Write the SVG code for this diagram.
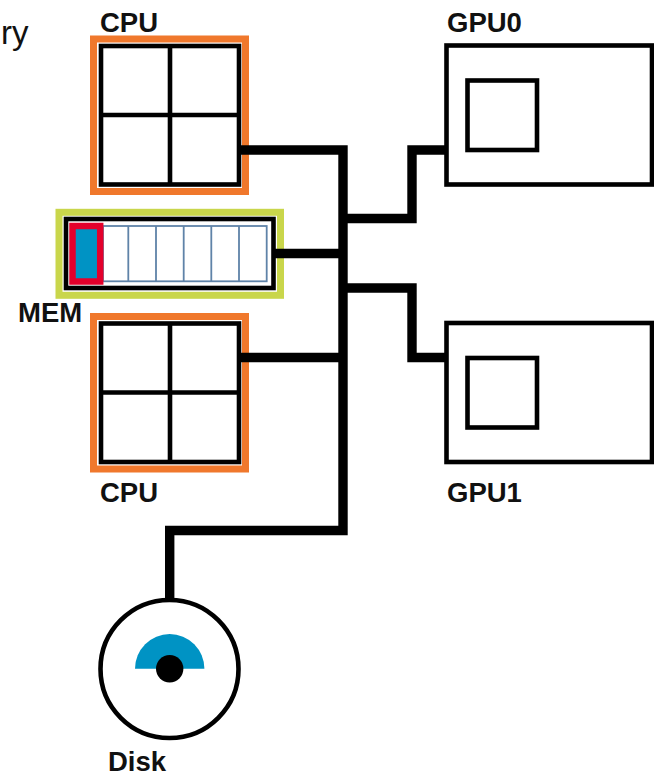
<svg xmlns="http://www.w3.org/2000/svg" width="654" height="774" viewBox="0 0 654 774">
<style>
text{font-family:"Liberation Sans",Arial,sans-serif;font-size:27.5px;font-weight:700;fill:#111}
.k{fill:#fff;stroke:#000;stroke-width:4.6}
.l{fill:none;stroke:#000;stroke-width:4.6}
.o{fill:#fff;stroke:#f0782c;stroke-width:7}
.c{fill:none;stroke:#5f83a8;stroke-width:1.8}
.w{fill:none;stroke:#000;stroke-width:9.4;stroke-linejoin:miter}
</style>
<defs>
<g id="cpu">
<rect class="o" x="93.5" y="39" width="152" height="152.5"/>
<rect class="k" x="101" y="46" width="138" height="138.5"/>
<path class="l" d="M170 46V184.500M101 115H239"/>
</g>
<g id="gpu">
<rect class="k" x="446.500" y="45.500" width="205.500" height="139"/>
<rect class="k" x="467.500" y="80.500" width="69.500" height="69.500"/>
</g>
</defs>
<text style="font-weight:400;font-size:33px" x="1" y="44">ry</text>
<g id="cpu0"><use href="#cpu"/><text x="100" y="32">CPU</text></g>
<g id="cpu1"><use href="#cpu" y="277.500"/><text x="100" y="502">CPU</text></g>
<g id="gpu0"><use href="#gpu"/><text x="447" y="32">GPU0</text></g>
<g id="gpu1"><use href="#gpu" y="277.500"/><text x="447" y="502">GPU1</text></g>
<g id="mem">
<rect x="59" y="212.300" width="221.500" height="83" fill="#fff" stroke="#c9d64b" stroke-width="7"/>
<rect class="k" x="66" y="219" width="207.500" height="69" stroke-width="5"/>
<rect class="c" x="103" y="226" width="163.700" height="55.300"/>
<path class="c" d="M128.300 226V281.300M156 226V281.300M183.700 226V281.300M211.300 226V281.300M239 226V281.300"/>
<rect x="72.500" y="226" width="27.700" height="55.500" fill="#0093c4" stroke="#e4002b" stroke-width="6.500"/>
<text x="18" y="322">MEM</text>
</g>
<g id="disk">
<circle class="k" cx="169.500" cy="669" r="69"/>
<path d="M135 668.700A34.700 34.700 0 0 1 204.400 668.700Z" fill="#0093c4"/>
<circle cx="169.700" cy="668.700" r="13.700" fill="#000"/>
<text x="108" y="771">Disk</text>
</g>
<g id="connectors">
<path class="w" d="M239 150H343V530.500H169.700V600"/>
<path class="w" d="M343 218.500H412V150H446"/>
<path class="w" d="M274 253.500H343"/>
<path class="w" d="M343 288H412V357.500H446"/>
<path class="w" d="M239 357.500H343"/>
</g>
</svg>
